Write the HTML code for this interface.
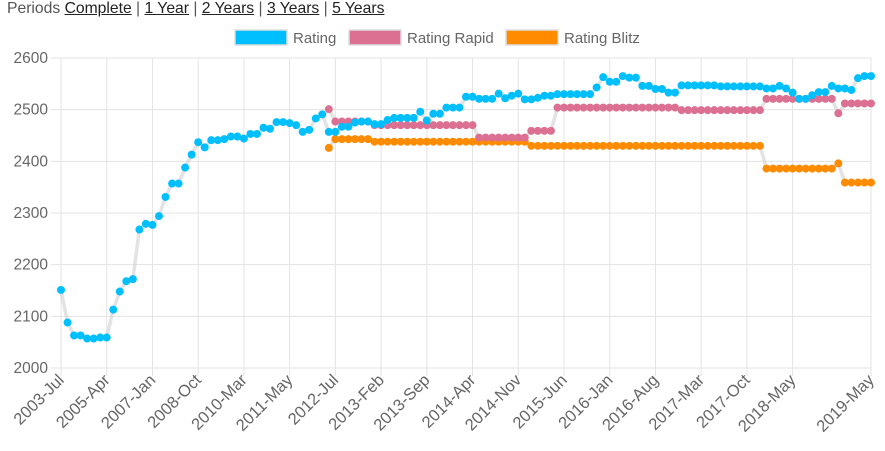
<!DOCTYPE html>
<html><head><meta charset="utf-8"><style>
html,body{margin:0;padding:0;background:#fff;width:885px;height:451px;overflow:hidden;font-family:"Liberation Sans",Arial,sans-serif}
#periods{position:absolute;left:7px;top:0px;font-size:15.7px;color:#555;}
#periods a{color:#222;text-decoration:underline;}
svg{position:absolute;left:0;top:0}
</style></head><body>
<div id="periods">Periods <a>Complete</a> | <a>1 Year</a> | <a>2 Years</a> | <a>3 Years</a> | <a>5 Years</a></div>
<svg id="chart" width="885" height="451"></svg>
<script>
const tickLabels = ["2003-Jul","2005-Apr","2007-Jan","2008-Oct","2010-Mar","2011-May","2012-Jul","2013-Feb","2013-Sep","2014-Apr","2014-Nov","2015-Jun","2016-Jan","2016-Aug","2017-Mar","2017-Oct","2018-May","2019-May"];
const tickIndices = [0,7,14,21,28,35,42,49,56,63,70,77,84,91,98,105,112,124];
const yTicks = [2000,2100,2200,2300,2400,2500,2600];
const rating = [2151,2088,2063,2063,2057,2057,2059,2059,2113,2148,2168,2172,2268,2279,2277,2294,2331,2357,2357,2388,2413,2437,2427,2441,2441,2443,2448,2448,2444,2453,2453,2465,2463,2476,2476,2474,2470,2457,2461,2483,2491,2457,
2457,2467,2467,2475,2477,2477,2472,2472,2480,2484,2484,2484,2484,2496,2479,2492,2492,2504,2504,2504,2525,2525,2521,2521,2521,2531,2522,2527,2531,2520,2520,2523,2527,2527,2530,2530,2530,2530,2530,2530,2543,
2563,2554,2554,2565,2562,2562,2546,2546,2540,2540,2533,2533,2547,2547,2547,2547,2547,2547,2545,2545,2545,2545,2545,2545,2545,2541,2541,2546,2541,2533,2521,2521,2528,2534,2534,2546,2541,2541,2538,2561,2565,2565];
const N = 125;
const rapid = [];
const blitz = [];
for(let i=0;i<41;i++){rapid.push(null);blitz.push(null);}
const rapidRuns = [[1,2501],[6,2477],[16,2470],[8,2446],[4,2459],[19,2504],[13,2499],[11,2521],[1,2493],[5,2512]];
const blitzRuns = [[1,2426],[6,2443],[24,2438],[36,2430],[11,2386],[1,2396],[5,2359]];
rapidRuns.forEach(r=>{for(let k=0;k<r[0];k++)rapid.push(r[1]);});
blitzRuns.forEach(r=>{for(let k=0;k<r[0];k++)blitz.push(r[1]);});

const X0=61,X1=871,Y0=368,Y1=58,VMIN=2000,VMAX=2600;
const xs=i=>X0+(X1-X0)*i/(N-1);
const ys=v=>Y0-(v-VMIN)*(Y0-Y1)/(VMAX-VMIN);
const svg=document.getElementById('chart');
const NS='http://www.w3.org/2000/svg';
function mk(t,a){const e=document.createElementNS(NS,t);for(const k in a)e.setAttribute(k,a[k]);svg.appendChild(e);return e;}

yTicks.forEach(v=>{
  const l=mk('line',{x1:51,x2:X1,y1:ys(v),y2:ys(v),stroke:'#e3e3e3','stroke-width':1});
  
  
  const t=mk('text',{x:48,y:ys(v)+5,'text-anchor':'end','font-size':15.5,fill:'#666'});
  t.textContent=v;
  
  
});
tickIndices.forEach((idx,j)=>{
  const x=xs(idx);
  const l=mk('line',{x1:x,x2:x,y1:Y1,y2:Y0+8,stroke:'#e3e3e3','stroke-width':1});
  
  
  const t=mk('text',{x:x+4,y:Y0+13,'text-anchor':'end','font-size':16.5,fill:'#666',transform:`rotate(-45 ${x+4} ${Y0+13})`});
  t.textContent=tickLabels[j];
  
  
});

function series(arr,color,name){
  let d='';let pen=false;
  arr.forEach((v,i)=>{if(v==null){pen=false;return;}d+=(pen?'L':'M')+xs(i).toFixed(1)+' '+ys(v).toFixed(1);pen=true;});
  const p=mk('path',{d:d,fill:'none',stroke:'rgba(200,200,200,0.5)','stroke-width':3.5});
  
  
  arr.forEach((v,i)=>{if(v==null)return;
    const c=mk('circle',{cx:xs(i),cy:ys(v),r:4,fill:color});
    
    
  });
}
series(blitz,'#ff8c00','rating-blitz');
series(rapid,'#db7093','rating-rapid');
series(rating,'#00bfff','rating');

const legend=[["Rating","#00bfff",234],["Rating Rapid","#db7093",348],["Rating Blitz","#ff8c00",505]];
legend.forEach(L=>{
  const r=mk('rect',{x:L[2]+1,y:30,width:52,height:15,fill:L[1],stroke:'#ddd','stroke-width':1.5});
  
  
  const t=mk('text',{x:L[2]+59,y:43,'font-size':15,fill:'#666'});
  t.textContent=L[0];
  
  
});
</script>
</body></html>
